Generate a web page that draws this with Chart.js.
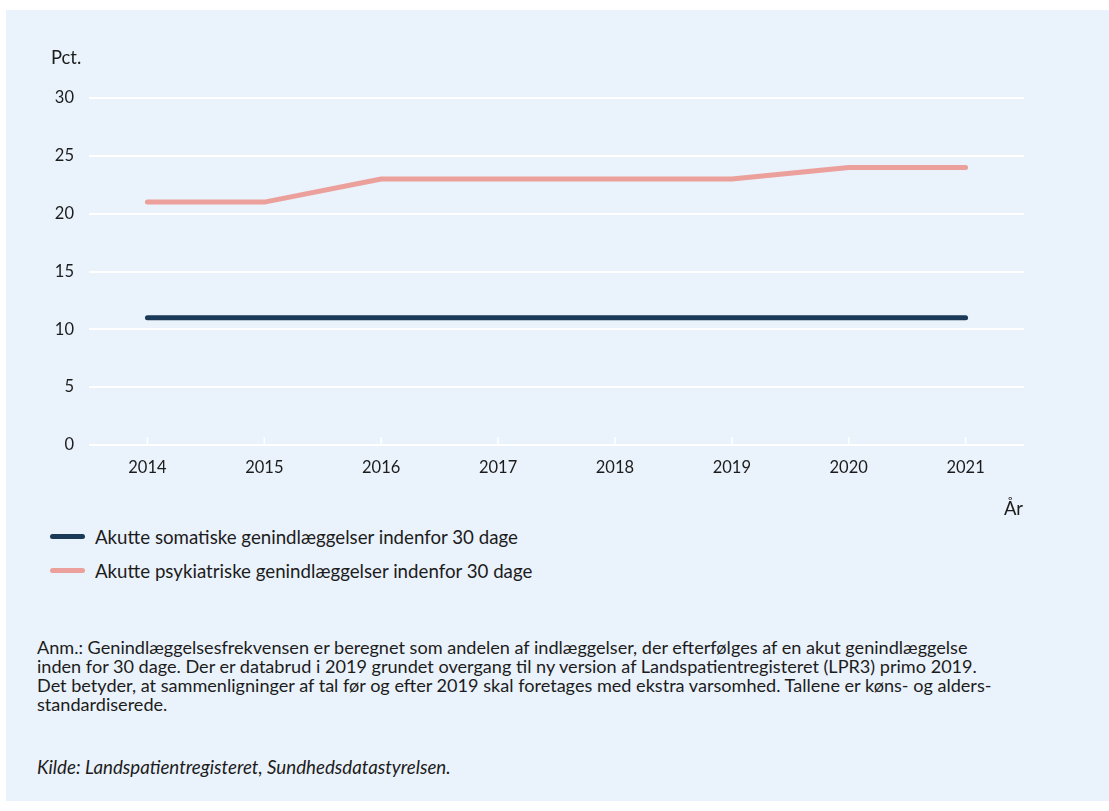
<!DOCTYPE html>
<html><head><meta charset="utf-8">
<script src="https://cdn.jsdelivr.net/npm/chart.js@4.4.1/dist/chart.umd.min.js"></script>
<style>
html,body{margin:0;padding:0;background:#fff;width:1109px;height:811px;overflow:hidden;font-family:Lato,"Noto Sans",sans-serif;color:#1c1c1c;}
#panel{position:absolute;left:6px;top:10px;width:1103px;height:791px;background:#EAF2FB;}
#wrap{position:absolute;left:0;top:0;width:1109px;height:520px;}
.t{position:absolute;white-space:nowrap;}
#pct{left:51px;top:46px;font-size:18.4px;line-height:22px;}
#ar{right:86px;top:497px;font-size:18.4px;line-height:22px;}
.leg{position:absolute;left:50px;height:24px;font-size:18.7px;line-height:24px;white-space:nowrap;}
.leg span.sw{position:absolute;left:0;top:9px;width:35px;height:5px;border-radius:3px;}
.leg span.lb{position:absolute;left:45px;top:0;}
#note{left:37px;top:638px;font-size:18.1px;line-height:19px;}
#src{left:37px;top:756px;font-size:18.7px;line-height:22px;font-style:italic;}
</style></head>
<body>
<div id="panel"></div>
<div id="wrap"><canvas id="c" width="1109" height="520"></canvas></div>
<div class="t" id="pct">Pct.</div>
<div class="t" id="ar">År</div>
<div id="legend"></div>
<div class="t" id="note">Anm.: Genindlæggelsesfrekvensen er beregnet som andelen af indlæggelser, der efterfølges af en akut genindlæggelse<br>inden for 30 dage. Der er databrud i 2019 grundet overgang til ny version af Landspatientregisteret (LPR3) primo 2019.<br>Det betyder, at sammenligninger af tal før og efter 2019 skal foretages med ekstra varsomhed. Tallene er køns- og alders-<br>standardiserede.</div>
<div class="t" id="src">Kilde: Landspatientregisteret, Sundhedsdatastyrelsen.</div>
<script>
const years = ['2014','2015','2016','2017','2018','2019','2020','2021'];
const somatic = [11,11,11,11,11,11,11,11];
const psychiatric = [21,21,23,23,23,23,24,24];
const seriesNames = ['Akutte somatiske genindlæggelser indenfor 30 dage','Akutte psykiatriske genindlæggelser indenfor 30 dage'];
const seriesColors = ['#1B3A57','#EBA09C'];
const yTicks = [0,5,10,15,20,25,30];

const FONT = 'Lato';
const TXT = '#1c1c1c';

const tickMarks = {
  id:'tickMarks',
  beforeDatasetsDraw(chart){
    const x = chart.scales.x, ctx = chart.ctx;
    const b = chart.scales.y.getPixelForValue(0);
    ctx.save();
    ctx.strokeStyle = '#ffffff';
    ctx.lineWidth = 1.5;
    x.ticks.forEach((t,i)=>{
      const px = x.getPixelForTick(i);
      ctx.beginPath(); ctx.moveTo(px,b); ctx.lineTo(px,b-8); ctx.stroke();
    });
    ctx.restore();
  }
};

new Chart(document.getElementById('c'), {
  type:'line',
  data:{
    labels: years,
    datasets:[
      {label:seriesNames[0], data:somatic, borderColor:seriesColors[0], borderWidth:5, pointRadius:0, borderCapStyle:'round', borderJoinStyle:'round', tension:0, fill:false},
      {label:seriesNames[1], data:psychiatric, borderColor:seriesColors[1], borderWidth:5, pointRadius:0, borderCapStyle:'round', borderJoinStyle:'round', tension:0, fill:false}
    ]
  },
  options:{
    responsive:false,
    animation:false,
    layout:{padding:{left:0,right:85,top:98,bottom:0}},
    plugins:{legend:{display:false}, tooltip:{enabled:false}},
    scales:{
      x:{
        offset:true,
        grid:{display:false, drawTicks:false},
        border:{display:false},
        ticks:{color:TXT, font:{family:FONT,size:16.5}, padding:13, maxRotation:0},
        afterFit(s){ s.height = 75; }
      },
      y:{
        min:0, max:30,
        afterBuildTicks(s){ s.ticks = yTicks.map(v=>({value:v})); },
        grid:{color:'#ffffff', lineWidth:2, drawTicks:false},
        border:{display:false},
        ticks:{color:TXT, font:{family:FONT,size:16.5}, padding:15},
        afterFit(s){ s.width = 89; }
      }
    }
  },
  plugins:[tickMarks]
});

const leg = document.getElementById('legend');
seriesNames.forEach((n,i)=>{
  const d = document.createElement('div');
  d.className='leg';
  d.style.top = (525 + i*34) + 'px';
  d.innerHTML = '<span class="sw" style="background:'+seriesColors[i]+'"></span><span class="lb">'+n+'</span>';
  leg.appendChild(d);
});
</script>
</body></html>
